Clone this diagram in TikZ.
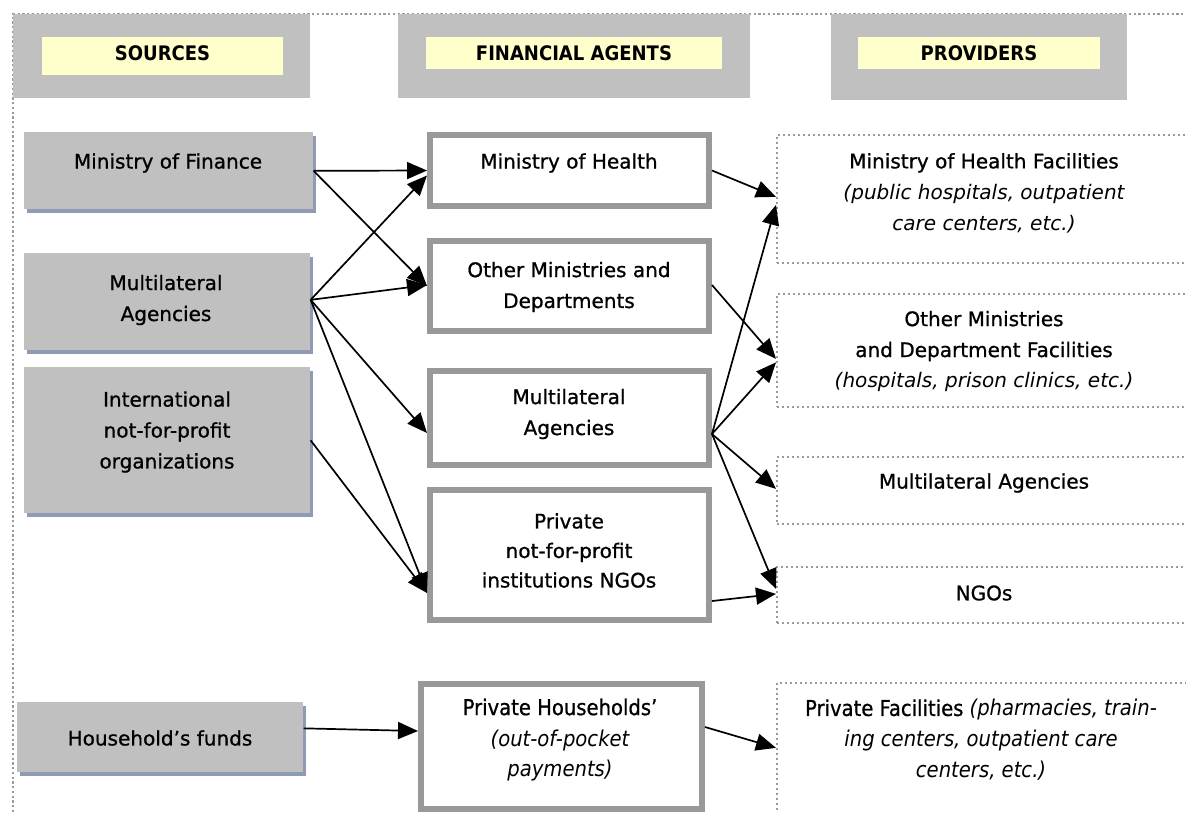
\documentclass[tikz,border=0pt]{standalone}
\usepackage{fontspec}
\setmainfont{DejaVu Sans}[BoldFont={DejaVu Sans},BoldFeatures={FakeBold=0.9},BoldItalicFont={DejaVu Sans Oblique},BoldItalicFeatures={FakeBold=0.9}]
\newfontfamily\condfont{DejaVu Sans Condensed}[BoldFont={DejaVu Sans Condensed Bold},ItalicFont={DejaVu Sans Condensed Oblique}]
\newfontfamily\condmed{DejaVu Sans Condensed}[FakeBold=0.8]
\usetikzlibrary{arrows.meta,calc,shadows}
\definecolor{hdrgray}{HTML}{C0C0C0}
\definecolor{hdryellow}{HTML}{FFFFCC}
\definecolor{fagray}{HTML}{999999}
\definecolor{dotgray}{HTML}{9A9A9A}
\definecolor{shadowblue}{HTML}{8E9BB2}
\tikzset{
  hdrbox/.style={fill=hdrgray, draw=none, inner sep=0pt},
  hdrlabel/.style={fill=hdryellow, draw=none, inner sep=0pt},
  hdrtext/.style={font=\condfont\bfseries\fontsize{11.4pt}{14pt}\selectfont, inner sep=0pt},
  srcbox/.style={fill=hdrgray, draw=none, inner sep=0pt, anchor=north west,
    drop shadow={shadow xshift=0.06cm, shadow yshift=-0.08cm, fill=shadowblue, opacity=1}},
  fabox/.style={draw=fagray, fill=white, line width=0.12cm, inner sep=0pt},
  provbox/.style={draw=dotgray, line width=0.035cm, dash pattern=on 0.035cm off 0.065cm, inner sep=0pt, anchor=north west},
  txt/.style={font=\bfseries\fontsize{11.4pt}{17.6pt}\selectfont, align=center, inner sep=0pt},
  ctxt/.style={font=\condfont\fontsize{12.4pt}{17.6pt}\selectfont, align=center, inner sep=0pt},
  flow/.style={-{Triangle[length=0.4cm,width=0.34cm]}, line width=0.034cm, black},
  frame/.style={draw=dotgray, line width=0.045cm, dash pattern=on 0.045cm off 0.05cm}
}
\begin{document}
\begin{tikzpicture}[x=0.02cm, y=-0.02cm]
\useasboundingbox (0,0) rectangle (1186,812);
\clip (0,0) rectangle (1186,812);
\fill[white] (0,0) rectangle (1186,812);
% outer dotted frame
\coordinate (fbl) at (13,812);
\coordinate (ftl) at (13,14);
\coordinate (ftr) at (1190,14);
\draw[frame] (fbl) -- (ftl) -- (ftr);
% headers
\node[hdrbox, minimum width=5.94cm, minimum height=1.68cm] (hs) at (161.5,56) {};
\node[hdrlabel, minimum width=4.82cm, minimum height=0.76cm] (hsy) at (162.5,56) {};
\node[hdrtext] (hst) at (162.5,53) {SOURCES};
\node[hdrbox, minimum width=7.04cm, minimum height=1.68cm] (hf) at (574,56) {};
\node[hdrlabel, minimum width=5.92cm, minimum height=0.64cm] (hfy) at (574,53) {};
\node[hdrtext] (hft) at (574,53) {FINANCIAL AGENTS};
\node[hdrbox, minimum width=5.92cm, minimum height=1.72cm] (hp) at (979,57) {};
\node[hdrlabel, minimum width=4.84cm, minimum height=0.64cm] (hpy) at (979,53) {};
\node[hdrtext] (hpt) at (979,53) {PROVIDERS};
% sources
\node[srcbox, minimum width=5.78cm, minimum height=1.54cm] (mof) at (24,132) {};
\node[txt] (moft) at (168,163) {Ministry of Finance};
\node[srcbox, minimum width=5.72cm, minimum height=1.94cm] (srcma) at (24,253) {};
\node[txt] (srcmat) at (166,300) {Multilateral\\Agencies};
\node[srcbox, minimum width=5.72cm, minimum height=2.92cm] (intl) at (24,367) {};
\node[txt] (intlt) at (167,432) {International\\not-for-profit\\organizations};
\node[srcbox, minimum width=5.72cm, minimum height=1.40cm] (hh) at (17,702) {};
\node[txt] (hht) at (160,738) {Household’s funds};
% financial agents
\node[fabox, minimum width=5.58cm, minimum height=1.42cm] (moh) at (569.5,170.5) {};
\node[txt] (moht) at (569,163) {Ministry of Health};
\node[fabox, minimum width=5.58cm, minimum height=1.80cm] (om) at (569.5,286) {};
\node[txt] (omt) at (569,287) {Other Ministries and\\Departments};
\node[fabox, minimum width=5.58cm, minimum height=1.88cm] (fama) at (569.5,418) {};
\node[txt] (famat) at (569,414) {Multilateral\\Agencies};
\node[fabox, minimum width=5.58cm, minimum height=2.60cm] (fango) at (569.5,555) {};
\node[txt, font=\bfseries\fontsize{11.4pt}{16.8pt}\selectfont] (fangot) at (569,550.5) {Private\\not-for-profit\\institutions NGOs};
\node[fabox, minimum width=5.62cm, minimum height=2.50cm] (phh) at (561.5,746.5) {};
\node[ctxt] (phht) at (560,740) {{\condmed Private Households’}\\\itshape (out-of-pocket\\\itshape payments)};
% providers
\node[provbox, minimum width=8.3cm, minimum height=2.56cm] (pmoh) at (776,134) {};
\node[txt] (pmoht) at (984,193) {Ministry of Health Facilities\\\mdseries\itshape (public hospitals, outpatient\\\mdseries\itshape care centers, etc.)};
\node[provbox, minimum width=8.3cm, minimum height=2.26cm] (pom) at (776,293) {};
\node[txt] (pomt) at (984,351.5) {Other Ministries\\and Department Facilities\\\mdseries\itshape (hospitals, prison clinics, etc.)};
\node[provbox, minimum width=8.3cm, minimum height=1.34cm] (pma) at (776,456) {};
\node[txt] (pmat) at (984,483) {Multilateral Agencies};
\node[provbox, minimum width=8.3cm, minimum height=1.12cm] (pngo) at (776,566) {};
\node[txt] (pngot) at (984,593) {NGOs};
\node[provbox, minimum width=8.3cm, minimum height=2.70cm] (ppf) at (776,682) {};
\node[ctxt] (ppft) at (981,740) {{\condmed Private Facilities} \itshape (pharmacies, train-\\\itshape ing centers, outpatient care\\\itshape centers, etc.)};
% flows sources -> agents
\draw[flow] (mof.east) -- (moh.west);
\draw[flow] (mof.east) -- (om.west);
\draw[flow] ($(srcma.east)+(0,-2)$) -- ($(moh.west)+(0,5)$);
\draw[flow] ($(srcma.east)+(0,-2)$) -- ($(om.west)+(0,-1)$);
\draw[flow] ($(srcma.east)+(0,-2)$) -- ($(fama.west)+(0,15)$);
\draw[flow] ($(srcma.east)+(0,-2)$) -- ($(fango.west)+(0,38)$);
\draw[flow] (intl.east) -- ($(fango.west)+(0,38)$);
\draw[flow] ($(hh.east)+(0,-9)$) -- ($(phh.west)+(0,-15.5)$);
% flows agents -> providers
\draw[flow] (moh.east) -- ($(pmoh.west)+(0,-2)$);
\draw[flow] ($(om.east)+(0,-1)$) -- ($(pom.west)+(0,8.5)$);
\draw[flow] ($(fama.east)+(0,16)$) -- ($(pmoh.west)+(0,6)$);
\draw[flow] ($(fama.east)+(0,16)$) -- ($(pom.west)+(0,12)$);
\draw[flow] ($(fama.east)+(0,16)$) -- ($(pma.west)+(0,-1.5)$);
\draw[flow] ($(fama.east)+(0,16)$) -- ($(pngo.west)+(0,-6)$);
\draw[flow] ($(fango.east)+(0,46)$) -- ($(pngo.west)+(0,-1)$);
\draw[flow] ($(phh.east)+(0,-19.5)$) -- ($(ppf.west)+(0,-2.5)$);
\end{tikzpicture}
\end{document}
